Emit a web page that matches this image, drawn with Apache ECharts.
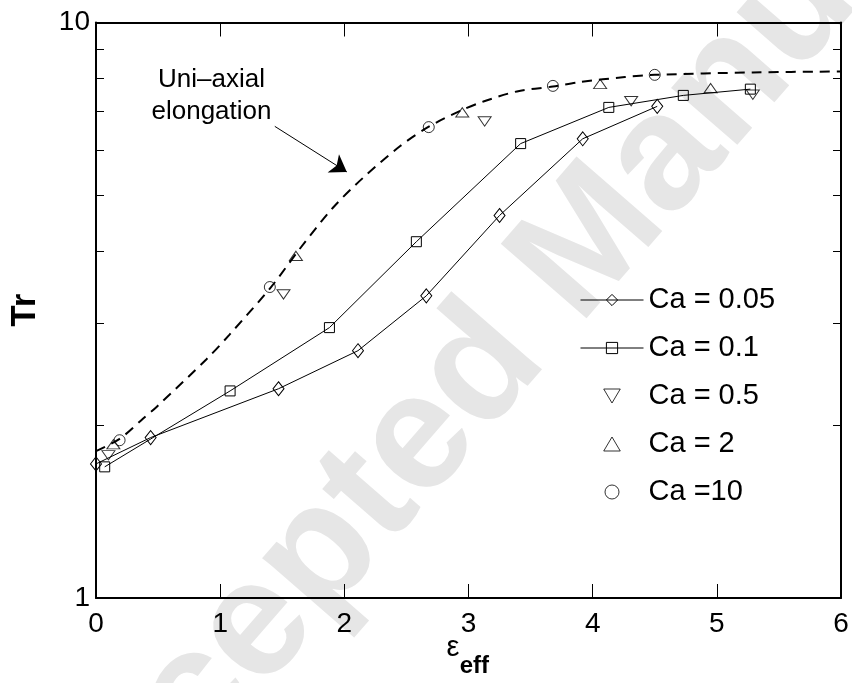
<!DOCTYPE html>
<html>
<head>
<meta charset="utf-8">
<script src="https://cdn.jsdelivr.net/npm/echarts@6/dist/echarts.min.js"></script>
<style>
  html, body { margin: 0; padding: 0; background: #fff; }
  #chart { width: 852px; height: 683px; }
</style>
</head>
<body>
<div id="chart"></div>
<script>
// Effective strain (x) and Tr (y) for each capillary number
const ca005X = [0, 0.44, 1.47, 2.11, 2.66, 3.25, 3.92, 4.52];
const ca005Y = [1.71, 1.90, 2.31, 2.69, 3.35, 4.62, 6.28, 7.15];

const ca01X = [0.07, 1.08, 1.88, 2.58, 3.42, 4.13, 4.73, 5.27];
const ca01Y = [1.69, 2.29, 2.95, 4.16, 6.16, 7.12, 7.47, 7.66];

const ca05X = [0.10, 1.51, 3.13, 4.31, 5.29];
const ca05Y = [1.77, 3.37, 6.73, 7.30, 7.49];

const ca2X = [0.14, 1.61, 2.95, 4.06, 4.95];
const ca2Y = [1.85, 3.93, 6.98, 7.82, 7.69];

const ca10X = [0.19, 1.40, 2.68, 3.68, 4.50];
const ca10Y = [1.88, 3.47, 6.58, 7.76, 8.11];

// Uni-axial elongation reference curve
const uniX = [0, 0.19, 0.38, 0.49, 0.89, 1.07, 1.41, 1.64, 1.91, 2.15, 2.45, 2.68, 2.95, 3.12, 3.39, 3.68, 3.90, 4.26, 4.50, 5.29, 6.00];
const uniY = [1.80, 1.89, 2.05, 2.15, 2.60, 2.86, 3.47, 4.04, 4.77, 5.37, 6.10, 6.59, 7.05, 7.29, 7.59, 7.74, 7.88, 8.04, 8.11, 8.19, 8.22];

// Axis ticks
const xTicks = [0, 1, 2, 3, 4, 5, 6];
const yLabelValues = [1, 10];
const yMinorTicks = [2, 3, 4, 5, 6, 7, 8, 9];

const seriesNames = ['Ca = 0.05', 'Ca = 0.1', 'Ca = 0.5', 'Ca = 2', 'Ca =10'];

const FONT = '"Liberation Sans", Arial, Helvetica, sans-serif';
const pairs = (xs, ys) => xs.map((x, i) => [x, ys[i]]);

// open (unfilled) marker style
const hollow = { color: 'rgba(0,0,0,0)', borderColor: '#000', borderWidth: 1 };
const TRI_UP = 'path://M13,0L26,22L0,22Z';
const TRI_DOWN = 'path://M0,0L26,0L13,22Z';

function xAxisDef(pos, showLabels) {
  return {
    type: 'value', position: pos, min: xTicks[0], max: xTicks[xTicks.length - 1], interval: 1,
    axisLine: { show: true, onZero: false, lineStyle: { color: '#000', width: 2 } },
    axisTick: { show: true, inside: true, length: 14, lineStyle: { color: '#000', width: 1 } },
    axisLabel: { show: showLabels, fontSize: 28, color: '#000', margin: 12, fontFamily: FONT },
    splitLine: { show: false }
  };
}

function yAxisDef(pos, showLabels) {
  return {
    type: 'log', logBase: 10, position: pos, min: 1, max: 10,
    axisLine: { show: true, onZero: false, lineStyle: { color: '#000', width: 2 } },
    axisTick: { show: true, inside: true, length: 8, customValues: yMinorTicks, lineStyle: { color: '#000', width: 1 } },
    axisLabel: { show: showLabels, customValues: yLabelValues, fontSize: 28, color: '#000', margin: 6, fontFamily: FONT },
    splitLine: { show: false },
    minorTick: { show: false }
  };
}

// ε on the first line, bold "eff" subscript on a second, shorter line shifted right
const xBottom = Object.assign(xAxisDef('bottom', true), {
  name: '{e|ε}{gap|        }\n{gap|   }{s|eff}',
  nameLocation: 'middle',
  nameGap: 37,
  nameMoveOverlap: false,
  nameTextStyle: {
    align: 'center',
    rich: {
      e: { fontSize: 29, fontFamily: FONT, color: '#000', lineHeight: 26 },
      gap: { fontSize: 14, fontFamily: FONT, lineHeight: 8 },
      s: { fontSize: 24, fontWeight: 'bold', fontFamily: FONT, color: '#000', lineHeight: 10 }
    }
  }
});

const yLeft = Object.assign(yAxisDef('left', true), {
  name: 'Tr',
  nameLocation: 'middle',
  nameGap: 53,
  nameMoveOverlap: false,
  nameTextStyle: { fontSize: 35, fontWeight: 'bold', color: '#000', fontFamily: FONT, lineHeight: 35 }
});

const option = {
  animation: false,
  backgroundColor: '#fff',
  textStyle: { fontFamily: FONT, color: '#000' },
  graphic: [{
    type: 'text',
    x: 575, y: 262,
    rotation: 49 * Math.PI / 180,
    z: -10,
    silent: true,
    style: {
      text: 'Accepted Manuscript',
      font: 'bold 165px ' + FONT,
      fill: '#e6e6e6',
      align: 'center', verticalAlign: 'middle',
      textAlign: 'center', textVerticalAlign: 'middle'
    }
  }],
  grid: { left: 96, right: 11, top: 22.5, bottom: 83, containLabel: false },
  xAxis: [xBottom, xAxisDef('top', false)],
  yAxis: [yLeft, yAxisDef('right', false)],
  legend: {
    data: seriesNames,
    orient: 'vertical',
    left: 580, top: 285,
    padding: 0,
    itemWidth: 63, itemHeight: 14, itemGap: 18,
    selectedMode: false,
    symbolKeepAspect: true,
    itemStyle: { color: 'rgba(0,0,0,0)', borderColor: '#000', borderWidth: 1 },
    lineStyle: { color: '#000', width: 1 },
    textStyle: { fontSize: 29, lineHeight: 30, color: '#000', fontFamily: FONT }
  },
  series: [
    {
      name: 'Uni-axial elongation',
      type: 'line',
      data: pairs(uniX, uniY),
      symbol: 'none',
      smooth: 0.3,
      silent: true,
      lineStyle: { color: '#000', width: 2, type: [10, 7] },
      emphasis: { disabled: true },
      markLine: {
        silent: true,
        symbol: ['none', 'arrow'],
        symbolSize: 16,
        label: { show: false },
        lineStyle: { color: '#000', width: 1, type: 'solid' },
        emphasis: { disabled: true },
        data: [[{ coord: [1.44, 6.60] }, { coord: [2.02, 5.50] }]]
      },
      markPoint: {
        silent: true,
        symbol: 'circle',
        symbolSize: 1,
        itemStyle: { color: 'rgba(0,0,0,0)' },
        label: {
          show: true, position: 'inside', formatter: 'Uni\u2013axial\nelongation',
          fontSize: 26, lineHeight: 32, color: '#000', fontFamily: FONT, align: 'center'
        },
        data: [{ coord: [0.93, 7.46] }]
      }
    },
    {
      name: seriesNames[0], type: 'line', data: pairs(ca005X, ca005Y),
      symbol: 'diamond', symbolSize: [11, 14], showAllSymbol: true,
      lineStyle: { color: '#000', width: 1 }, itemStyle: hollow,
      emphasis: { disabled: true }
    },
    {
      name: seriesNames[1], type: 'line', data: pairs(ca01X, ca01Y),
      symbol: 'rect', symbolSize: 10, showAllSymbol: true,
      lineStyle: { color: '#000', width: 1 }, itemStyle: hollow,
      emphasis: { disabled: true }
    },
    {
      name: seriesNames[2], type: 'scatter', data: pairs(ca05X, ca05Y),
      symbol: TRI_DOWN, symbolSize: [13, 11], symbolKeepAspect: true,
      itemStyle: hollow, emphasis: { disabled: true }
    },
    {
      name: seriesNames[3], type: 'scatter', data: pairs(ca2X, ca2Y),
      symbol: TRI_UP, symbolSize: [13, 11], symbolKeepAspect: true,
      itemStyle: hollow, emphasis: { disabled: true }
    },
    {
      name: seriesNames[4], type: 'scatter', data: pairs(ca10X, ca10Y),
      symbol: 'circle', symbolSize: 11,
      itemStyle: hollow, emphasis: { disabled: true }
    }
  ]
};

const chart = echarts.init(document.getElementById('chart'), null, { renderer: 'canvas' });
chart.setOption(option);
</script>
</body>
</html>
